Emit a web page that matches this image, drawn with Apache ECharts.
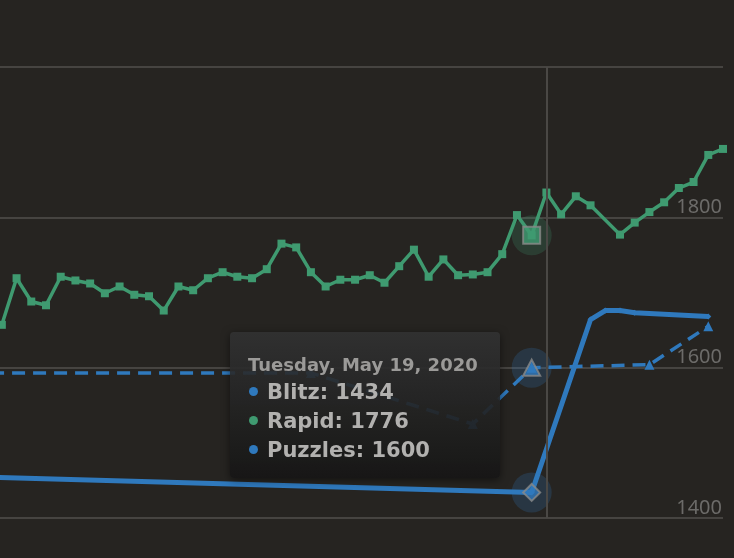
<!DOCTYPE html>
<html>
<head>
<meta charset="utf-8">
<script src="https://cdn.jsdelivr.net/npm/echarts@6/dist/echarts.min.js"></script>
<style>
  html, body { margin: 0; padding: 0; background: #262421; }
  #chart { width: 734px; height: 558px; }
</style>
</head>
<body>
<div id="chart"></div>
<script>
// rating history
const rapidDates = [
  '2020-04-13', '2020-04-14', '2020-04-15', '2020-04-16', '2020-04-17', '2020-04-18', '2020-04-19',
  '2020-04-20', '2020-04-21', '2020-04-22', '2020-04-23', '2020-04-24', '2020-04-25', '2020-04-26',
  '2020-04-27', '2020-04-28', '2020-04-29', '2020-04-30', '2020-05-01', '2020-05-02', '2020-05-03',
  '2020-05-04', '2020-05-05', '2020-05-06', '2020-05-07', '2020-05-08', '2020-05-09', '2020-05-10',
  '2020-05-11', '2020-05-12', '2020-05-13', '2020-05-14', '2020-05-15', '2020-05-16', '2020-05-17',
  '2020-05-18', '2020-05-19', '2020-05-20', '2020-05-21', '2020-05-22', '2020-05-23',
  '2020-05-25', '2020-05-26', '2020-05-27', '2020-05-28', '2020-05-29', '2020-05-30', '2020-05-31',
  '2020-06-01'
]
const rapidValues = [
  1657, 1719, 1688, 1683, 1721, 1716, 1712,
  1699, 1708, 1697, 1695, 1676, 1708, 1703,
  1719, 1727, 1721, 1719, 1731, 1765, 1760,
  1727, 1708, 1717, 1717, 1723, 1713, 1735,
  1757, 1721, 1744, 1723, 1724, 1727, 1751,
  1803, 1776, 1833, 1804, 1828, 1816,
  1777, 1793, 1807, 1820, 1839, 1847, 1883,
  1891
]
const blitzDates = ['2020-03-24', '2020-05-19', '2020-05-23', '2020-05-24', '2020-05-25', '2020-05-26', '2020-05-31']
const blitzValues = [1465, 1434, 1664, 1676, 1676, 1673, 1668]
const puzzleDates = ['2020-03-29', '2020-05-04', '2020-05-15', '2020-05-19', '2020-05-27', '2020-05-31']
const puzzleValues = [1593, 1593, 1525, 1600, 1604, 1655]

const seriesNames = ['Blitz', 'Rapid', 'Puzzles']
const hoverDate = '2020-05-19'
const hoverTitle = 'Tuesday, May 19, 2020'
const hoverValues = [1434, 1776, 1600]
const crosshairDate = '2020-05-20'
const yTicks = [1400, 1600, 1800, 2000]

const BLUE = '#2f79bd'
const GREEN = '#3f9a70'
const t = echarts.time.parse

const pairs = (d, v) => d.map((x, i) => [x, v[i]])

const chart = echarts.init(document.getElementById('chart'))

const option = {
  backgroundColor: '#262421',
  animation: false,
  grid: { left: 0, right: 11, top: 67, bottom: 40 },
  xAxis: {
    type: 'time',
    min: +t('2020-04-12 21:00'),
    max: +t('2020-06-01 00:00'),
    axisLine: { show: false },
    axisTick: { show: false },
    axisLabel: { show: false },
    splitLine: { show: false }
  },
  yAxis: {
    type: 'value',
    position: 'right',
    min: yTicks[0],
    max: yTicks[yTicks.length - 1],
    interval: 200,
    axisLine: { show: false },
    axisTick: { show: false },
    axisLabel: {
      inside: true,
      margin: 1,
      verticalAlign: 'bottom',
      color: '#6c6b69',
      fontSize: 20,
      fontFamily: 'Noto Sans',
      padding: [0, 0, 0, 0],
      showMaxLabel: false,
      formatter: v => String(v)
    },
    splitLine: { lineStyle: { color: '#464441', width: 2 } }
  },
  tooltip: {
    trigger: 'item',
    triggerOn: 'none',
    alwaysShowContent: true,
    position: [230, 332],
    backgroundColor: 'rgba(30,30,30,0.88)',
    borderWidth: 0,
    padding: [22, 16, 14, 18],
    extraCssText: 'width:270px;height:146px;box-sizing:border-box;border-radius:4px;' +
      'background:linear-gradient(rgba(50,50,50,0.9),rgba(22,22,22,0.92));box-shadow:0 2px 8px rgba(0,0,0,0.5);',
    formatter: function () {
      const colors = [BLUE, GREEN, BLUE]
      let html = '<div style="font-family:DejaVu Sans;font-size:18px;font-weight:bold;color:#9b9a98;line-height:22px;margin-bottom:2px">' + hoverTitle + '</div>'
      seriesNames.forEach((n, i) => {
        html += '<div style="font-family:DejaVu Sans;font-size:21px;font-weight:bold;color:#b2b1af;line-height:29px">' +
          '<span style="display:inline-block;width:9px;height:9px;border-radius:50%;background:' + colors[i] +
          ';margin:0 9px 3px 1px;vertical-align:middle"></span>' + n + ': ' + hoverValues[i] + '</div>'
      })
      return html
    }
  },
  series: [
    {
      name: 'Blitz',
      type: 'line',
      data: pairs(blitzDates, blitzValues),
      symbol: 'diamond',
      symbolSize: 6,
      showAllSymbol: true,
      lineStyle: { color: BLUE, width: 5 },
      itemStyle: { color: BLUE },
      emphasis: { disabled: true },
      z: 3
    },
    {
      name: 'Rapid',
      type: 'line',
      data: pairs(rapidDates, rapidValues),
      symbol: 'rect',
      symbolSize: 8,
      showAllSymbol: true,
      clip: false,
      lineStyle: { color: GREEN, width: 3.5 },
      itemStyle: { color: GREEN },
      emphasis: { disabled: true },
      markLine: {
        silent: true,
        symbol: 'none',
        label: { show: false },
        lineStyle: { color: '#4a4845', width: 2, type: 'solid' },
        data: [{ xAxis: +t(crosshairDate) }]
      },
      z: 3
    },
    {
      name: 'Puzzles',
      type: 'line',
      data: pairs(puzzleDates, puzzleValues),
      symbol: 'triangle',
      symbolSize: 10,
      showAllSymbol: true,
      lineStyle: { color: BLUE, width: 3.5, type: [13, 8] },
      itemStyle: { color: BLUE },
      emphasis: { disabled: true },
      z: 3
    },
    {
      name: 'halo',
      type: 'scatter',
      data: [
        { value: [hoverDate, hoverValues[0]], itemStyle: { color: 'rgba(47,121,189,0.28)' } },
        { value: [hoverDate, hoverValues[1]], itemStyle: { color: 'rgba(63,154,112,0.28)' } },
        { value: [hoverDate, hoverValues[2]], itemStyle: { color: 'rgba(47,121,189,0.28)' } }
      ],
      symbol: 'circle',
      symbolSize: 40,
      silent: true,
      z: 4
    },
    {
      name: 'hover',
      type: 'scatter',
      data: [
        { value: [hoverDate, hoverValues[0]], symbol: 'diamond', symbolSize: [17, 17], itemStyle: { color: BLUE } },
        { value: [hoverDate, hoverValues[1]], symbol: 'rect', symbolSize: [17, 17], itemStyle: { color: GREEN } },
        { value: [hoverDate, hoverValues[2]], symbol: 'triangle', symbolSize: [17, 16], itemStyle: { color: BLUE } }
      ],
      itemStyle: { borderColor: '#8a8988', borderWidth: 2 },
      silent: true,
      z: 5
    }
  ]
}

chart.setOption(option)
chart.dispatchAction({ type: 'showTip', seriesIndex: 1, dataIndex: 36 })
window.addEventListener('resize', chart.resize)
</script>
</body>
</html>
